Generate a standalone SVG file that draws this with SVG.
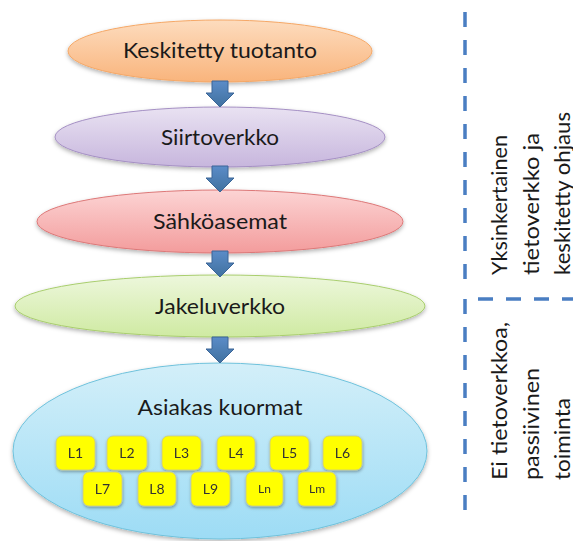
<svg xmlns="http://www.w3.org/2000/svg" width="573" height="541" viewBox="0 0 573 541">
  <style>
    .lbl { font-family: Lato, "Liberation Sans", sans-serif; font-size: 22px; fill: #1a1a1a; text-anchor: middle; }
    .side { font-family: Lato, "Liberation Sans", sans-serif; font-size: 21px; fill: #1a1a1a; }
    .box { fill: #FFFF00; stroke: #C8C88A; stroke-width: 0.8; }
    .boxt { font-family: Lato, "Liberation Sans", sans-serif; font-size: 14px; fill: #333; text-anchor: middle; }
    .arrow { fill: url(#gArrow); stroke: #3A6597; stroke-width: 1; }
    .dash { fill: none; stroke: #4A7EC2; stroke-width: 3.5; stroke-dasharray: 15 13; }
  </style>
  <defs>
    <filter id="shadow" x="-10%" y="-10%" width="120%" height="130%">
      <feDropShadow dx="0" dy="2" stdDeviation="2" flood-color="#000" flood-opacity="0.3"/>
    </filter>
    <filter id="bshadow" x="-20%" y="-20%" width="140%" height="150%">
      <feDropShadow dx="0.5" dy="1.5" stdDeviation="1.5" flood-color="#000" flood-opacity="0.35"/>
    </filter>
    <linearGradient id="gOrange" x1="0" y1="0" x2="0" y2="1">
      <stop offset="0" stop-color="#FDDCBE"/>
      <stop offset="1" stop-color="#F9B47C"/>
    </linearGradient>
    <linearGradient id="gPurple" x1="0" y1="0" x2="0" y2="1">
      <stop offset="0" stop-color="#E9E2F2"/>
      <stop offset="1" stop-color="#C7B6DD"/>
    </linearGradient>
    <linearGradient id="gPink" x1="0" y1="0" x2="0" y2="1">
      <stop offset="0" stop-color="#FCD4D4"/>
      <stop offset="1" stop-color="#F39C9C"/>
    </linearGradient>
    <linearGradient id="gGreen" x1="0" y1="0" x2="0" y2="1">
      <stop offset="0" stop-color="#EDF7DC"/>
      <stop offset="1" stop-color="#CFEAA2"/>
    </linearGradient>
    <linearGradient id="gBlue" x1="0" y1="0" x2="0" y2="1">
      <stop offset="0" stop-color="#D3EFF9"/>
      <stop offset="1" stop-color="#9DDCF5"/>
    </linearGradient>
    <linearGradient id="gArrow" x1="0" y1="0" x2="0" y2="1">
      <stop offset="0" stop-color="#5B8CC8"/>
      <stop offset="1" stop-color="#40719F"/>
    </linearGradient>
    <path id="downArrow" d="M-8,0 H8 V12 H14 L0,26 L-14,12 H-8 Z"/>
  </defs>

  <rect width="573" height="541" fill="#FFFFFF"/>

  <!-- layers of the power system -->
  <g id="tuotanto">
    <ellipse cx="220" cy="51" rx="152" ry="31" fill="url(#gOrange)" stroke="#F5A867" stroke-width="1" filter="url(#shadow)"/>
    <text class="lbl" x="220" y="58" textLength="194" lengthAdjust="spacingAndGlyphs">Keskitetty tuotanto</text>
  </g>
  <g id="siirtoverkko">
    <ellipse cx="220" cy="137" rx="165" ry="30" fill="url(#gPurple)" stroke="#A590C4" stroke-width="1" filter="url(#shadow)"/>
    <text class="lbl" x="220" y="145" textLength="118" lengthAdjust="spacingAndGlyphs">Siirtoverkko</text>
  </g>
  <g id="sahkoasemat">
    <ellipse cx="220" cy="221.5" rx="183" ry="31.5" fill="url(#gPink)" stroke="#DD7878" stroke-width="1" filter="url(#shadow)"/>
    <text class="lbl" x="220" y="229" textLength="134" lengthAdjust="spacingAndGlyphs">Sähköasemat</text>
  </g>
  <g id="jakeluverkko">
    <ellipse cx="220" cy="306" rx="205" ry="31" fill="url(#gGreen)" stroke="#A9CE6E" stroke-width="1" filter="url(#shadow)"/>
    <text class="lbl" x="220" y="314" textLength="130" lengthAdjust="spacingAndGlyphs">Jakeluverkko</text>
  </g>
  <g id="asiakaskuormat">
    <ellipse cx="220" cy="451" rx="207" ry="88" fill="url(#gBlue)" stroke="#6FC2DC" stroke-width="1" filter="url(#shadow)"/>
    <text class="lbl" x="220" y="415" textLength="165" lengthAdjust="spacingAndGlyphs">Asiakas kuormat</text>
  </g>

  <!-- individual loads -->
  <g id="kuormat" filter="url(#bshadow)">
    <g id="L1"><rect class="box" x="56" y="436" width="39" height="34" rx="6"/><text class="boxt" x="75.5" y="458">L1</text></g>
    <g id="L2"><rect class="box" x="107" y="436" width="40" height="34" rx="6"/><text class="boxt" x="127" y="458">L2</text></g>
    <g id="L3"><rect class="box" x="162" y="436" width="39" height="34" rx="6"/><text class="boxt" x="181.5" y="458">L3</text></g>
    <g id="L4"><rect class="box" x="217" y="436" width="38" height="34" rx="6"/><text class="boxt" x="236" y="458">L4</text></g>
    <g id="L5"><rect class="box" x="270" y="436" width="39" height="34" rx="6"/><text class="boxt" x="289.5" y="458">L5</text></g>
    <g id="L6"><rect class="box" x="323" y="436" width="39" height="34" rx="6"/><text class="boxt" x="342.5" y="458">L6</text></g>
    <g id="L7"><rect class="box" x="83" y="472" width="39" height="34" rx="6"/><text class="boxt" x="102.5" y="494">L7</text></g>
    <g id="L8"><rect class="box" x="138" y="472" width="38" height="34" rx="6"/><text class="boxt" x="157" y="494">L8</text></g>
    <g id="L9"><rect class="box" x="191" y="472" width="39" height="34" rx="6"/><text class="boxt" x="210.5" y="494">L9</text></g>
    <g id="Ln"><rect class="box" x="246" y="472" width="37" height="34" rx="6"/><text class="boxt" x="264.5" y="493" style="font-size:12px">Ln</text></g>
    <g id="Lm"><rect class="box" x="298" y="472" width="38" height="34" rx="6"/><text class="boxt" x="317" y="493" style="font-size:12px">Lm</text></g>
  </g>

  <!-- flow arrows between layers -->
  <g id="connectors">
    <use href="#downArrow" class="arrow" x="220" y="81"/>
    <use href="#downArrow" class="arrow" x="220" y="166"/>
    <use href="#downArrow" class="arrow" x="220" y="251"/>
    <use href="#downArrow" class="arrow" x="220" y="337"/>
  </g>

  <!-- control-scheme divider -->
  <g id="divider">
    <path class="dash" d="M465,12 V286"/>
    <path class="dash" d="M573,299 H465 V518" stroke-dashoffset="4"/>
  </g>

  <g id="ohjaus-ylempi">
    <text class="side" transform="translate(507,275) rotate(-90)" textLength="140" lengthAdjust="spacingAndGlyphs">Yksinkertainen</text>
    <text class="side" transform="translate(538.5,275) rotate(-90)" textLength="142" lengthAdjust="spacingAndGlyphs">tietoverkko ja</text>
    <text class="side" transform="translate(570,275) rotate(-90)" textLength="163" lengthAdjust="spacingAndGlyphs">keskitetty ohjaus</text>
  </g>
  <g id="ohjaus-alempi">
    <text class="side" transform="translate(507,480) rotate(-90)" textLength="158" lengthAdjust="spacingAndGlyphs">Ei tietoverkkoa,</text>
    <text class="side" transform="translate(538.5,480) rotate(-90)" textLength="112" lengthAdjust="spacingAndGlyphs">passiivinen</text>
    <text class="side" transform="translate(570,480) rotate(-90)" textLength="82" lengthAdjust="spacingAndGlyphs">toiminta</text>
  </g>
</svg>
